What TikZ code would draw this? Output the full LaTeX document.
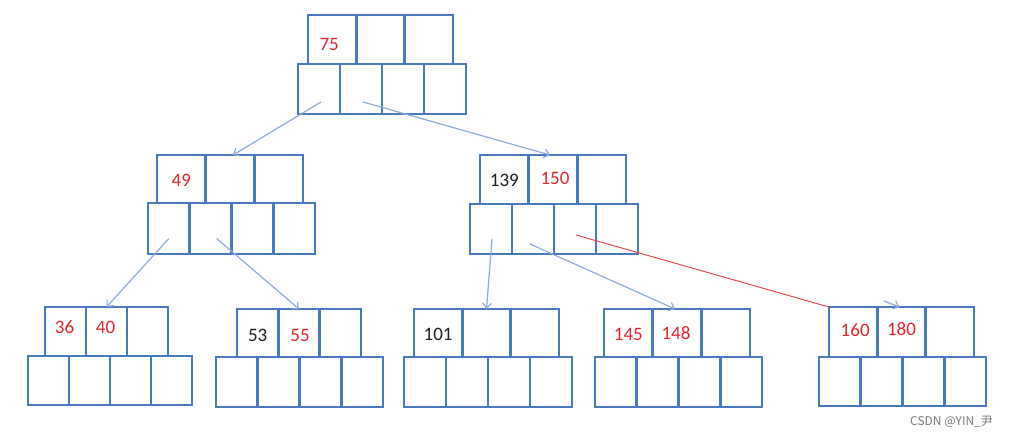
\documentclass[tikz,border=0pt]{standalone}
\usepackage{fontspec}
\setmainfont{Carlito}
\newfontfamily\cjkfont{Noto Sans CJK SC}
\usetikzlibrary{arrows.meta,calc}
\definecolor{boxblue}{RGB}{74,122,190}
\definecolor{arrblue}{RGB}{140,170,218}
\definecolor{numred}{RGB}{226,36,42}
\definecolor{redline}{RGB}{226,60,70}
\definecolor{wmgray}{RGB}{120,120,120}
\definecolor{numblack}{RGB}{30,30,30}
\newcommand\btnode[8]{%
  \pgfmathsetmacro\btKW{(#3-#2)/3}%
  \pgfmathsetmacro\btPW{(#7-#6)/4}%
  \pgfmathsetmacro\btKH{#5-#4}%
  \pgfmathsetmacro\btPH{#8-#5}%
  \foreach \i in {1,2,3}{%
    \node[cell, minimum width=\btKW pt, minimum height=\btKH pt] (#1-k\i) at ({#2+(\i-0.5)*\btKW},{(#4+#5)/2}) {};}
  \foreach \i in {1,2,3,4}{%
    \node[cell, minimum width=\btPW pt, minimum height=\btPH pt] (#1-p\i) at ({#6+(\i-0.5)*\btPW},{(#5+#8)/2}) {};}
}
\begin{document}
\begin{tikzpicture}[x=1pt,y=-1pt,
  cell/.style={draw=boxblue, line width=2.6pt, rectangle, inner sep=0pt, outer sep=0pt},
  rednum/.style={text=numred, font=\fontsize{19}{19}\selectfont, inner sep=0pt},
  blacknum/.style={text=numblack, font=\fontsize{19}{19}\selectfont, inner sep=0pt},
  arr/.style={draw=arrblue, line width=1.2pt, -{Straight Barb[length=5pt,width=9pt]}},
  redconn/.style={draw=redline, line width=0.9pt},
  wm/.style={text=wmgray, font=\cjkfont\fontsize{12}{12}\selectfont, inner sep=0pt}]
\useasboundingbox (0,0) rectangle (1011,438);
% nodes
\btnode{top}{308}{453}{15}{64}{298}{466}{114}
\btnode{ml}{157}{303}{155}{203}{148}{315}{254}
\btnode{mr}{480}{626}{155}{204}{470}{638}{254}
\btnode{bl}{45}{168}{307}{356}{28}{192}{405}
\btnode{bb}{237}{361}{309}{357}{216}{383}{407}
\btnode{bc}{414}{559}{309}{357}{404}{572}{407}
\btnode{bd}{604}{750}{309}{357}{595}{762}{407}
\btnode{be}{829}{974}{307}{357}{819}{986}{406}
% labels
\node[rednum] (l75) at ([shift={(-3,5)}]top-k1.center) {75};
\node[rednum] (l49) at ([shift={(0,1)}]ml-k1.center) {49};
\node[blacknum] (l139) at ([shift={(0,1)}]mr-k1.center) {139};
\node[rednum] (l150) at ([shift={(2,-1)}]mr-k2.center) {150};
\node[rednum] (l36) at ([shift={(-1,-4)}]bl-k1.center) {36};
\node[rednum] (l40) at ([shift={(-1,-4)}]bl-k2.center) {40};
\node[blacknum] (l53) at ([shift={(0,2)}]bb-k1.center) {53};
\node[rednum] (l55) at ([shift={(1,2)}]bb-k2.center) {55};
\node[blacknum] (l101) at ([shift={(0,1)}]bc-k1.center) {101};
\node[rednum] (l145) at ([shift={(0,1)}]bd-k1.center) {145};
\node[rednum] (l148) at ([shift={(-1,0)}]bd-k2.center) {148};
\node[rednum] (l160) at ([shift={(2,-2)}]be-k1.center) {160};
\node[rednum] (l180) at ([shift={(0,-3)}]be-k2.center) {180};
% connectors
\draw[arr] ([shift={(2,13)}]top-p1.center) -- ([xshift=3pt]ml-k2.north);
\draw[arr] ([shift={(2,13)}]top-p2.center) -- ([xshift=-3pt]mr-k2.north);
\draw[arr] ([shift={(0,10)}]ml-p1.center) -- (bl-k2.north);
\draw[arr] ([shift={(6,10)}]ml-p2.center) -- (bb-k2.north);
\draw[arr] ([shift={(1,10)}]mr-p1.center) -- (bc-k2.north);
\draw[arr] ([shift={(-3,15)}]mr-p2.center) -- ([xshift=-2pt]bd-k2.north);
\draw[redconn] ([shift={(1,6)}]mr-p3.center) -- (be-k1.north west);
\coordinate (stub) at (884,301);
\draw[arr] (stub) -- ([xshift=-2pt]be-k2.north);
% watermark
\node[wm, anchor=west] (wmark) at (910,422) {CSDN @YIN\_尹};
\end{tikzpicture}
\end{document}
